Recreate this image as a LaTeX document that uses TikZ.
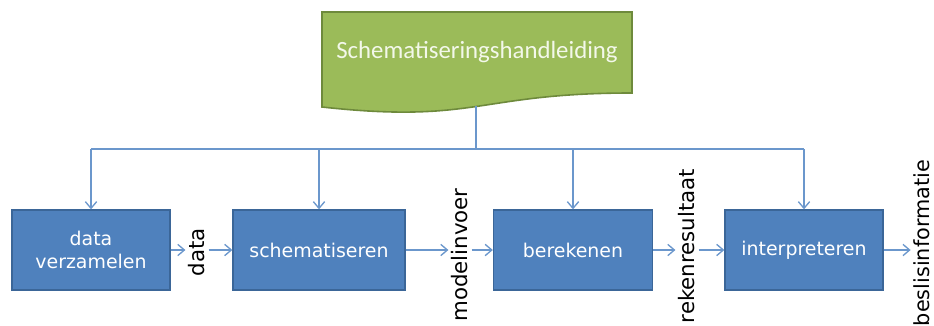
\documentclass[tikz,border=0pt]{standalone}
\usepackage{fontspec}
\setmainfont{DejaVu Sans}
\newfontfamily\titlefont{Carlito}
\usetikzlibrary{arrows.meta}
\definecolor{boxblue}{HTML}{4F81BD}
\definecolor{boxedge}{HTML}{3B6698}
\definecolor{linkblue}{HTML}{6B97CC}
\definecolor{docgreen}{HTML}{9BBB59}
\definecolor{docedge}{HTML}{6E8A3C}
\definecolor{doctext}{HTML}{F3F8EA}

\begin{document}
\begin{tikzpicture}[x=0.75pt,y=-0.75pt,>={Straight Barb[length=5pt,width=8.5pt]},line width=1pt]
\tikzset{proc/.style = {draw=boxedge, fill=boxblue, line width=1pt, minimum height=60pt, text=white, font=\fontsize{14.2}{17.2}\selectfont, align=center, inner sep=0pt}}
\tikzset{flow/.style = {rotate=90, font=\fontsize{16}{19}\selectfont, inner sep=2pt}}
\tikzset{link/.style = {draw=linkblue, line width=1pt}}

\useasboundingbox (0,0) rectangle (934,325);

%handleiding
\draw[docedge, fill=docgreen, line width=1.2pt] (322,12) -- (632,12) -- (632,93) .. controls (477,93) and (477,124) .. (322,107) -- cycle;
\node[text=doctext, font=\titlefont\fontsize{18.6}{22}\selectfont] (doc) at (477,52) {Schematiseringshandleiding};
\coordinate (docfoot) at (476,106);
\coordinate (hub) at (476,149);

%steps
\node[proc, minimum width=118.5pt] (verzamel) at (91,250) {data\\verzamelen};
\node[proc, minimum width=129pt] (schema) at (319,250) {schematiseren};
\node[proc, minimum width=119.25pt] (bereken) at (573,250) {berekenen};
\node[proc, minimum width=118.5pt] (interpret) at (804,250) {interpreteren};

%products
\node[flow] (data) at (197,252) {data};
\node[flow] (invoer) at (460,255) {modelinvoer};
\node[flow] (resultaat) at (687,246) {rekenresultaat};
\node[flow, font=\fontsize{15.6}{19}\selectfont] (beslis) at (922,243) {beslisinformatie};

%links
\draw[link] (docfoot) -- (hub);
\draw[link] (verzamel |- hub) -- (interpret |- hub);
\foreach \step in {verzamel, schema, bereken, interpret}
  \draw[link,->] (\step |- hub) -- (\step);

\draw[link,->] (verzamel) -- (verzamel -| data.north);
\draw[link,->] (data.south |- schema) -- (schema);
\draw[link,->] (schema) -- (schema -| invoer.north);
\draw[link,->] (invoer.south |- bereken) -- (bereken);
\draw[link,->] (bereken) -- (bereken -| resultaat.north);
\draw[link,->] (resultaat.south |- interpret) -- (interpret);
\draw[link,->] (interpret) -- (interpret -| beslis.north);

\end{tikzpicture}
\end{document}
